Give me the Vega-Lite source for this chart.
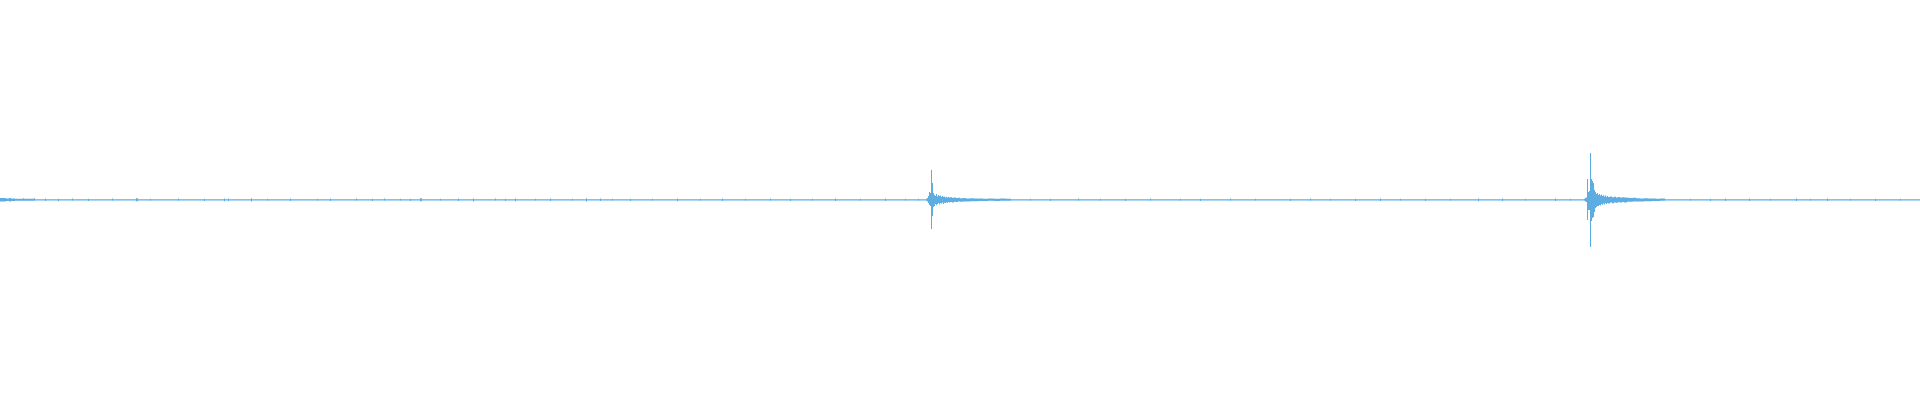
{
"$schema":"https://vega.github.io/schema/vega-lite/v6.json",
"width":1920,"height":400,
"autosize":{"type":"fit","contains":"padding"},
"padding":0,
"background":"white",
"config":{"view":{"stroke":null}},
"data":{"values":[
{"x":0,"max":0.01,"min":-0.008},{"x":6,"max":0.008,"min":-0.005},{"x":9,"max":0.01,"min":-0.008},{"x":11,"max":0.008,"min":-0.005},{"x":15,"max":0.006,"min":-0.004},{"x":23,"max":0.009,"min":-0.004},{"x":24,"max":0.006,"min":-0.004},{"x":34,"max":0.009,"min":-0.004},{"x":35,"max":0.004,"min":-0.003},
{"x":45,"max":0.007,"min":-0.005},{"x":46,"max":0.004,"min":-0.003},
{"x":58,"max":0.006,"min":-0.006},{"x":59,"max":0.004,"min":-0.003},
{"x":72,"max":0.007,"min":-0.004},{"x":73,"max":0.004,"min":-0.003},
{"x":88,"max":0.006,"min":-0.005},{"x":89,"max":0.004,"min":-0.003},
{"x":112,"max":0.008,"min":-0.004},{"x":113,"max":0.004,"min":-0.003},
{"x":136,"max":0.009,"min":-0.006},{"x":138,"max":0.004,"min":-0.003},
{"x":150,"max":0.006,"min":-0.004},{"x":151,"max":0.004,"min":-0.003},
{"x":178,"max":0.008,"min":-0.004},{"x":179,"max":0.004,"min":-0.003},
{"x":204,"max":0.006,"min":-0.005},{"x":205,"max":0.004,"min":-0.003},
{"x":224,"max":0.008,"min":-0.006},{"x":225,"max":0.004,"min":-0.003},
{"x":228,"max":0.007,"min":-0.005},{"x":229,"max":0.004,"min":-0.003},
{"x":251,"max":0.009,"min":-0.008},{"x":252,"max":0.004,"min":-0.003},
{"x":267,"max":0.006,"min":-0.004},{"x":268,"max":0.004,"min":-0.003},
{"x":290,"max":0.007,"min":-0.005},{"x":291,"max":0.004,"min":-0.003},
{"x":317,"max":0.006,"min":-0.004},{"x":318,"max":0.004,"min":-0.003},
{"x":330,"max":0.007,"min":-0.005},{"x":331,"max":0.004,"min":-0.003},
{"x":356,"max":0.008,"min":-0.004},{"x":357,"max":0.004,"min":-0.003},
{"x":372,"max":0.006,"min":-0.005},{"x":373,"max":0.004,"min":-0.003},
{"x":384,"max":0.007,"min":-0.004},{"x":385,"max":0.004,"min":-0.003},
{"x":400,"max":0.006,"min":-0.004},{"x":401,"max":0.004,"min":-0.003},
{"x":410,"max":0.006,"min":-0.005},{"x":411,"max":0.004,"min":-0.003},
{"x":420,"max":0.009,"min":-0.006},{"x":422,"max":0.004,"min":-0.003},
{"x":440,"max":0.006,"min":-0.004},{"x":441,"max":0.004,"min":-0.003},
{"x":458,"max":0.007,"min":-0.005},{"x":459,"max":0.004,"min":-0.003},
{"x":473,"max":0.008,"min":-0.008},{"x":474,"max":0.004,"min":-0.003},
{"x":495,"max":0.007,"min":-0.004},{"x":496,"max":0.004,"min":-0.003},
{"x":505,"max":0.006,"min":-0.005},{"x":506,"max":0.004,"min":-0.003},
{"x":515,"max":0.008,"min":-0.006},{"x":516,"max":0.004,"min":-0.003},
{"x":535,"max":0.006,"min":-0.004},{"x":536,"max":0.004,"min":-0.003},
{"x":550,"max":0.007,"min":-0.005},{"x":551,"max":0.004,"min":-0.003},
{"x":572,"max":0.006,"min":-0.004},{"x":573,"max":0.004,"min":-0.003},
{"x":586,"max":0.009,"min":-0.008},{"x":587,"max":0.004,"min":-0.003},
{"x":600,"max":0.007,"min":-0.005},{"x":601,"max":0.004,"min":-0.003},
{"x":612,"max":0.006,"min":-0.004},{"x":613,"max":0.004,"min":-0.003},
{"x":630,"max":0.006,"min":-0.005},{"x":631,"max":0.004,"min":-0.003},
{"x":652,"max":0.006,"min":-0.004},{"x":653,"max":0.004,"min":-0.003},
{"x":677,"max":0.008,"min":-0.006},{"x":678,"max":0.004,"min":-0.003},
{"x":700,"max":0.006,"min":-0.004},{"x":701,"max":0.004,"min":-0.003},
{"x":722,"max":0.007,"min":-0.005},{"x":723,"max":0.004,"min":-0.003},
{"x":745,"max":0.006,"min":-0.004},{"x":746,"max":0.004,"min":-0.003},
{"x":770,"max":0.007,"min":-0.004},{"x":771,"max":0.004,"min":-0.003},
{"x":790,"max":0.006,"min":-0.005},{"x":791,"max":0.004,"min":-0.003},
{"x":812,"max":0.006,"min":-0.004},{"x":813,"max":0.004,"min":-0.003},
{"x":835,"max":0.007,"min":-0.005},{"x":836,"max":0.004,"min":-0.003},
{"x":860,"max":0.006,"min":-0.004},{"x":861,"max":0.004,"min":-0.003},
{"x":885,"max":0.008,"min":-0.005},{"x":886,"max":0.004,"min":-0.003},
{"x":905,"max":0.006,"min":-0.004},{"x":906,"max":0.004,"min":-0.003},
{"x":918,"max":0.006,"min":-0.004},{"x":919,"max":0.004,"min":-0.003},
{"x":926,"max":0.006,"min":-0.004},{"x":927,"max":0.01,"min":-0.008},{"x":928,"max":0.02,"min":-0.015},{"x":929,"max":0.04,"min":-0.025},{"x":930,"max":0.035,"min":-0.03},{"x":931,"max":0.15,"min":-0.145},{"x":932,"max":0.085,"min":-0.08},{"x":933,"max":0.035,"min":-0.035},{"x":934,"max":0.025,"min":-0.03},{"x":935,"max":0.02,"min":-0.02},{"x":936,"max":0.03,"min":-0.025},{"x":937,"max":0.018,"min":-0.02},{"x":938,"max":0.025,"min":-0.015},{"x":939,"max":0.02,"min":-0.022},{"x":940,"max":0.022,"min":-0.015},{"x":941,"max":0.015,"min":-0.018},{"x":942,"max":0.02,"min":-0.012},{"x":943,"max":0.016,"min":-0.02},{"x":944,"max":0.018,"min":-0.014},{"x":945,"max":0.012,"min":-0.015},{"x":946,"max":0.016,"min":-0.012},{"x":947,"max":0.013,"min":-0.014},{"x":948,"max":0.015,"min":-0.01},{"x":949,"max":0.012,"min":-0.013},{"x":950,"max":0.014,"min":-0.01},{"x":952,"max":0.011,"min":-0.012},{"x":954,"max":0.013,"min":-0.009},{"x":956,"max":0.01,"min":-0.01},{"x":958,"max":0.011,"min":-0.008},{"x":960,"max":0.009,"min":-0.009},{"x":963,"max":0.01,"min":-0.007},{"x":966,"max":0.008,"min":-0.008},{"x":970,"max":0.009,"min":-0.006},{"x":974,"max":0.007,"min":-0.006},{"x":978,"max":0.008,"min":-0.005},{"x":983,"max":0.006,"min":-0.005},{"x":988,"max":0.007,"min":-0.004},{"x":994,"max":0.006,"min":-0.005},{"x":1000,"max":0.007,"min":-0.004},{"x":1006,"max":0.006,"min":-0.004},{"x":1011,"max":0.004,"min":-0.003},
{"x":1030,"max":0.006,"min":-0.004},{"x":1031,"max":0.004,"min":-0.003},
{"x":1050,"max":0.006,"min":-0.005},{"x":1051,"max":0.004,"min":-0.003},
{"x":1078,"max":0.007,"min":-0.004},{"x":1079,"max":0.004,"min":-0.003},
{"x":1100,"max":0.006,"min":-0.004},{"x":1101,"max":0.004,"min":-0.003},
{"x":1125,"max":0.006,"min":-0.005},{"x":1126,"max":0.004,"min":-0.003},
{"x":1150,"max":0.007,"min":-0.004},{"x":1151,"max":0.004,"min":-0.003},
{"x":1180,"max":0.006,"min":-0.004},{"x":1181,"max":0.004,"min":-0.003},
{"x":1200,"max":0.006,"min":-0.005},{"x":1201,"max":0.004,"min":-0.003},
{"x":1230,"max":0.007,"min":-0.004},{"x":1231,"max":0.004,"min":-0.003},
{"x":1255,"max":0.006,"min":-0.004},{"x":1256,"max":0.004,"min":-0.003},
{"x":1290,"max":0.006,"min":-0.005},{"x":1291,"max":0.004,"min":-0.003},
{"x":1310,"max":0.007,"min":-0.004},{"x":1311,"max":0.004,"min":-0.003},
{"x":1330,"max":0.006,"min":-0.004},{"x":1331,"max":0.004,"min":-0.003},
{"x":1355,"max":0.006,"min":-0.005},{"x":1356,"max":0.004,"min":-0.003},
{"x":1380,"max":0.008,"min":-0.005},{"x":1381,"max":0.004,"min":-0.003},
{"x":1400,"max":0.006,"min":-0.004},{"x":1401,"max":0.004,"min":-0.003},
{"x":1425,"max":0.006,"min":-0.005},{"x":1426,"max":0.004,"min":-0.003},
{"x":1450,"max":0.006,"min":-0.004},{"x":1451,"max":0.004,"min":-0.003},
{"x":1478,"max":0.008,"min":-0.006},{"x":1479,"max":0.004,"min":-0.003},
{"x":1502,"max":0.008,"min":-0.005},{"x":1503,"max":0.004,"min":-0.003},
{"x":1525,"max":0.006,"min":-0.004},{"x":1526,"max":0.004,"min":-0.003},
{"x":1555,"max":0.008,"min":-0.005},{"x":1556,"max":0.004,"min":-0.003},
{"x":1570,"max":0.006,"min":-0.004},{"x":1571,"max":0.004,"min":-0.003},
{"x":1584,"max":0.006,"min":-0.004},{"x":1585,"max":0.01,"min":-0.008},{"x":1586,"max":0.012,"min":-0.01},{"x":1587,"max":0.105,"min":-0.1},{"x":1588,"max":0.04,"min":-0.05},{"x":1589,"max":0.045,"min":-0.05},{"x":1590,"max":0.235,"min":-0.235},{"x":1591,"max":0.105,"min":-0.105},{"x":1592,"max":0.095,"min":-0.09},{"x":1593,"max":0.085,"min":-0.085},{"x":1594,"max":0.05,"min":-0.06},{"x":1595,"max":0.04,"min":-0.04},{"x":1596,"max":0.03,"min":-0.035},{"x":1597,"max":0.035,"min":-0.03},{"x":1598,"max":0.025,"min":-0.03},{"x":1599,"max":0.03,"min":-0.025},{"x":1600,"max":0.022,"min":-0.028},{"x":1601,"max":0.028,"min":-0.02},{"x":1602,"max":0.02,"min":-0.024},{"x":1603,"max":0.024,"min":-0.018},{"x":1604,"max":0.018,"min":-0.022},{"x":1605,"max":0.022,"min":-0.016},{"x":1606,"max":0.016,"min":-0.02},{"x":1607,"max":0.02,"min":-0.015},{"x":1608,"max":0.015,"min":-0.018},{"x":1610,"max":0.018,"min":-0.013},{"x":1612,"max":0.014,"min":-0.016},{"x":1614,"max":0.016,"min":-0.012},{"x":1616,"max":0.013,"min":-0.014},{"x":1618,"max":0.015,"min":-0.011},{"x":1620,"max":0.012,"min":-0.013},{"x":1622,"max":0.014,"min":-0.01},{"x":1624,"max":0.012,"min":-0.012},{"x":1627,"max":0.011,"min":-0.009},{"x":1630,"max":0.01,"min":-0.009},{"x":1633,"max":0.011,"min":-0.008},{"x":1636,"max":0.009,"min":-0.008},{"x":1640,"max":0.008,"min":-0.007},{"x":1644,"max":0.009,"min":-0.006},{"x":1648,"max":0.007,"min":-0.006},{"x":1652,"max":0.008,"min":-0.005},{"x":1656,"max":0.006,"min":-0.005},{"x":1660,"max":0.007,"min":-0.004},{"x":1665,"max":0.004,"min":-0.003},
{"x":1690,"max":0.006,"min":-0.004},{"x":1691,"max":0.004,"min":-0.003},
{"x":1710,"max":0.006,"min":-0.005},{"x":1711,"max":0.004,"min":-0.003},
{"x":1725,"max":0.008,"min":-0.005},{"x":1726,"max":0.004,"min":-0.003},
{"x":1749,"max":0.008,"min":-0.005},{"x":1750,"max":0.004,"min":-0.003},
{"x":1770,"max":0.006,"min":-0.004},{"x":1771,"max":0.004,"min":-0.003},
{"x":1796,"max":0.008,"min":-0.005},{"x":1797,"max":0.004,"min":-0.003},
{"x":1810,"max":0.006,"min":-0.004},{"x":1811,"max":0.004,"min":-0.003},
{"x":1827,"max":0.008,"min":-0.005},{"x":1828,"max":0.004,"min":-0.003},
{"x":1850,"max":0.006,"min":-0.004},{"x":1851,"max":0.004,"min":-0.003},
{"x":1875,"max":0.006,"min":-0.005},{"x":1876,"max":0.004,"min":-0.003},
{"x":1900,"max":0.006,"min":-0.004},{"x":1901,"max":0.004,"min":-0.003},
{"x":1920,"max":0.004,"min":-0.003}
]},
"mark":{"type":"area","interpolate":"step-after","color":"#5DADE2","opacity":1},
"encoding":{
"x":{"field":"x","type":"quantitative","scale":{"domain":[0,1920],"nice":false,"zero":false},"axis":null},
"y":{"field":"max","type":"quantitative","scale":{"domain":[-1,1],"nice":false},"axis":null},
"y2":{"field":"min"}
}
}
